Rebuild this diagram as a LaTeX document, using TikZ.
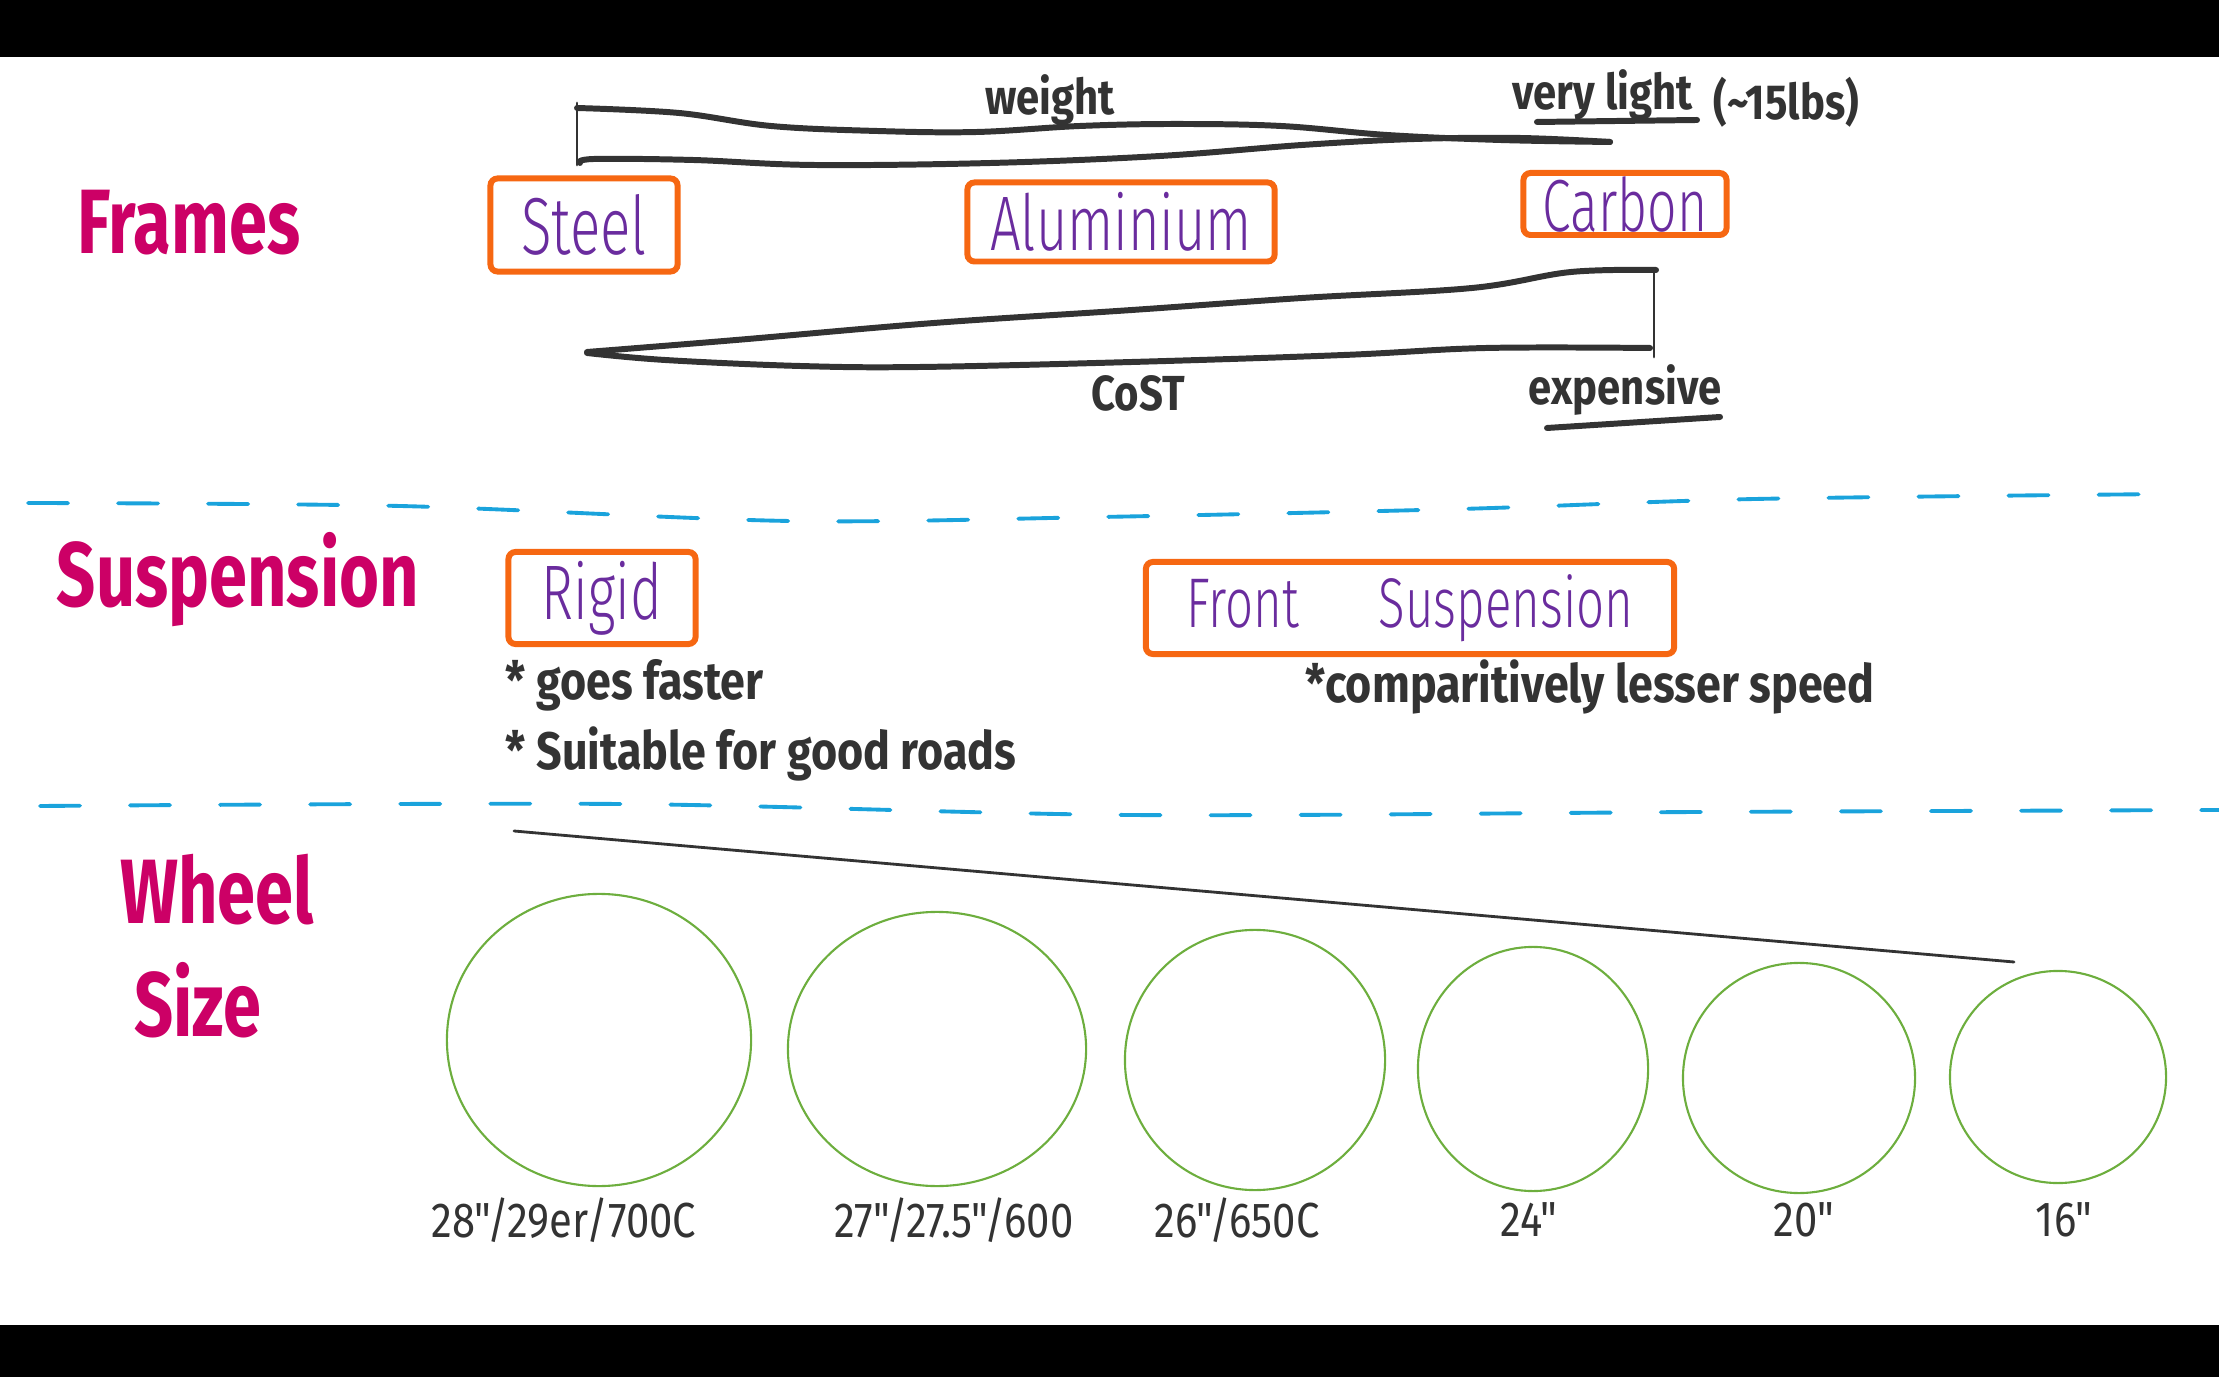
\documentclass[tikz,border=0pt]{standalone}
\usepackage{fontspec}
\setmainfont{Fira Sans}
\newfontfamily\headFont{Fira Sans}[FakeStretch=0.75]
\newfontfamily\handFont{Fira Sans Light}[FakeStretch=0.7]
\newfontfamily\noteFont{Fira Sans}[FakeStretch=0.85]
\usetikzlibrary{shapes.geometric}

\begin{document}
\begin{tikzpicture}[x=0.01cm, y=-0.01cm,
    heading/.style={text=headColour, font=\headFont\bfseries\fontsize{26}{28}\selectfont, inner sep=0pt},
    choice/.style={draw=boxColour, line width=1.7pt, rounded corners=2pt, text=choiceColour,
        inner sep=0pt, font=\handFont\fontsize{#1}{#1}\selectfont},
    note/.style={text=inkColour, font=\noteFont\bfseries\fontsize{15}{17}\selectfont, inner sep=0pt},
    tag/.style={text=inkColour, font=\noteFont\bfseries\fontsize{14}{16}\selectfont, inner sep=0pt},
    sizetag/.style={text=inkColour, font=\noteFont\fontsize{14}{16}\selectfont, inner sep=0pt},
    barLine/.style={draw=inkColour, line width=1.7pt, line cap=round, line join=round},
    thinLine/.style={draw=inkColour, line width=0.8pt, line cap=round},
    sepLine/.style={draw=sepColour, line width=1.1pt, line cap=round, dash pattern=on 0.4cm off 0.5cm},
    wheelShape/.style={draw=wheelColour, line width=0.6pt, ellipse, inner sep=0pt}]

    \definecolor{headColour}{HTML}{CC0066}
    \definecolor{boxColour}{HTML}{F66712}
    \definecolor{choiceColour}{HTML}{6A2C9E}
    \definecolor{inkColour}{HTML}{333333}
    \definecolor{sepColour}{HTML}{1AA3DC}
    \definecolor{wheelColour}{HTML}{6DAE3E}

    \useasboundingbox (0,0) rectangle (2219,1377);

    % Black bars
    \fill[black] (0,0) rectangle (2219,57);
    \fill[black] (0,1325) rectangle (2219,1377);

    % Frames
    \node[heading] (frames) at (189,223) {Frames};
    \node[choice=23, minimum width=1.87cm, minimum height=0.93cm] (steel) at (584,225) {Steel};
    \node[choice=22, minimum width=3.07cm, minimum height=0.79cm] (alu) at (1121,222) {Aluminium};
    \node[choice=21, minimum width=2.03cm, minimum height=0.62cm] (carbon) at (1625,204) {Carbon};

    % Weight wedge
    \draw[barLine] plot[smooth, tension=0.6] coordinates {(577,108) (679,113) (771,126) (877,131) (977,132)
        (1080,126) (1175,124) (1281,126) (1387,135) (1500,140) (1610,142)};
    \draw[barLine] plot[smooth, tension=0.6] coordinates {(580,163) (594,159) (693,160) (814,165) (991,163)
        (1160,156) (1302,145) (1415,139) (1520,138) (1610,142)};
    \draw[thinLine] (577,103) -- (577,165);
    \node[tag, anchor=base] (weightTag) at (1050,115) {weight};
    \node[tag, anchor=base west] (lightTag) at (1512,110) {very light};
    \node[tag, anchor=base west] (lbsTag) at (1713,120) {(\textasciitilde15lbs)};
    \draw[barLine] (1537,122) -- (1697,120);

    % Cost wedge
    \draw[barLine] plot[smooth, tension=0.6] coordinates {(587,352) (736,340) (934,323) (1132,310) (1302,298)
        (1472,288) (1571,272) (1656,270)};
    \draw[barLine] plot[smooth, tension=0.6] coordinates {(587,353) (665,360) (800,366) (920,367) (1132,362)
        (1344,355) (1486,348) (1650,348)};
    \draw[thinLine] (1654,270) -- (1654,357);
    \node[tag, anchor=base] (costTag) at (1138,411) {CoST};
    \node[tag, anchor=base] (expTag) at (1625,405) {expensive};
    \draw[barLine] (1547,428) -- (1720,417);

    % Separators
    \draw[sepLine] plot[smooth] coordinates {(28,503) (400,506) (790,521) (1100,517) (1460,509) (1755,499) (2170,494)};
    \draw[sepLine] plot[smooth] coordinates {(40,806) (620,804) (1130,815) (1700,812) (2219,810)};

    % Suspension
    \node[heading] (suspension) at (238,580) {Suspension};
    \node[choice=22, minimum width=1.87cm, minimum height=0.92cm] (rigid) at (602,598) {Rigid};
    \node[choice=20, minimum width=5.28cm, minimum height=0.92cm] (front) at (1410,608) {Front\hspace{0.8cm}Suspension};
    \node[note, anchor=base west] (fast) at (505,700) {* goes faster};
    \node[note, anchor=base west] (roads) at (505,770) {* Suitable for good roads};
    \node[note, anchor=base west] (lesser) at (1305,703) {*comparitively lesser speed};

    % Wheel size
    \node[heading] (wheel) at (217,890) {Wheel};
    \node[heading] (size) at (198,1000) {Size};
    \coordinate (slopeTop) at (514,831);
    \coordinate (slopeEnd) at (2014,962);
    \draw[thinLine] (slopeTop) -- (slopeEnd);

    \foreach \i/\cx/\cy/\w/\h/\lx/\txt in {
        1/599/1040/3.04/2.92/564/{28"/29er/700C},
        2/937/1049/2.98/2.74/954/{27"/27.5"/600},
        3/1255/1060/2.60/2.60/1237/{26"/650C},
        4/1533/1069/2.30/2.44/1529/{24"},
        5/1799/1078/2.32/2.30/1804/{20"},
        6/2058/1077/2.16/2.12/2064/{16"}} {
        \node[wheelShape, minimum width=\w cm, minimum height=\h cm] (w\i) at (\cx,\cy) {};
        \node[sizetag] (t\i) at (\lx,1220) {\txt};
    }

\end{tikzpicture}
\end{document}
